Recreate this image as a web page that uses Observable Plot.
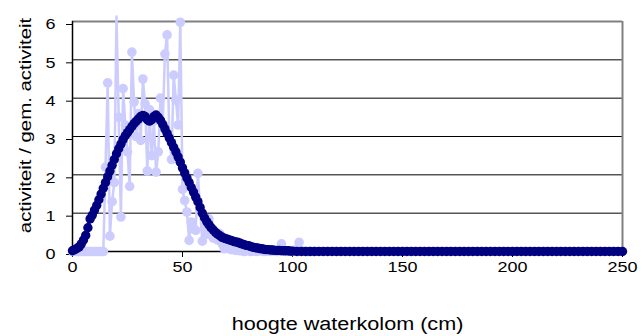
<!DOCTYPE html>
<html><head><meta charset="utf-8">
<script src="https://cdn.jsdelivr.net/npm/d3@7"></script>
<script src="https://cdn.jsdelivr.net/npm/@observablehq/plot@0.6"></script>
<style>body{margin:0;background:#fff}</style>
</head><body><div id="chart"></div>
<script>
const xTicks = [0, 50, 100, 150, 200, 250];
const yTicks = [0, 1, 2, 3, 4, 5, 6];
const xTitle = "hoogte waterkolom (cm)";
const yTitle = "activiteit / gem. activiteit";

// light (measured) series
const lightX = [0,1,2,3,4,5,6,7,8,9,10,11,12,13,14,15,16,17,18,19,20,21,22,23,24,25,26,27,28,29,30,31,32,33,34,35,36,37,38,39,40,41,42,43,44,45,46,47,48,49,50,51,52,53,54,55,56,57,58,59,60,61,62,63,64,65,66,67,68,69,70,71,72,73,74,75,76,77,78,79,80,81,82,83,84,85,86,87,88,89,90,91,92,93,94,95,96,97,98,99,100,101,102,103,104,105,106,107,108,109,110];
const lightY = [0,0,0,0,0,0,0,0,0,0,0,0,0,0,0,2.2,4.4,0.4,1.3,1.8,6.13,3.5,0.9,4.25,3.3,2.6,1.7,5.2,3.9,3.0,3.6,2.9,4.5,3.85,2.1,3.7,2.5,3.4,2.07,2.6,4.0,3.3,5.15,5.65,3.0,2.4,4.6,3.95,3.3,5.98,1.62,1.33,1.03,0.29,0.77,0.59,0.55,2.04,1.1,0.27,0.6,0.45,0.85,0.63,0.35,0.5,0.3,0.46,0.2,0.07,0.15,0.1,0.05,0.08,0.03,0.05,0.02,0.03,0,0.02,0.04,0,0.02,0.01,0,0.03,0.02,0,0.01,0.02,0,0.03,0.01,0,0.02,0.2,0.03,0,0.02,0.01,0,0.03,0.05,0.24,0.02,0,0,0,0,0,0];

// dark (smoothed) series
const darkX = [0,1,2,3,4,5,6,7,8,9,10,11,12,13,14,15,16,17,18,19,20,21,22,23,24,25,26,27,28,29,30,31,32,33,34,35,36,37,38,39,40,41,42,43,44,45,46,47,48,49,50,51,52,53,54,55,56,57,58,59,60,61,62,63,64,65,66,67,68,69,70,71,72,73,74,75,76,77,78,79,80,81,82,83,84,85,86,87,88,89,90,91,92,93,94,95,96,97,98,99,100,
102,104,106,108,110,112,114,116,118,120,122,124,126,128,130,132,134,136,138,140,142,144,146,148,150,152,154,156,158,160,162,164,166,168,170,172,174,176,178,180,182,184,186,188,190,192,194,196,198,200,202,204,206,208,210,212,214,216,218,220,222,224,226,228,230,232,234,236,238,240,242,244,246,248,250];
const darkY = [0.02,0.05,0.08,0.12,0.2,0.3,0.42,0.62,0.85,0.95,1.08,1.2,1.35,1.5,1.65,1.8,1.95,2.1,2.25,2.4,2.55,2.68,2.8,2.92,3.02,3.1,3.18,3.26,3.34,3.4,3.46,3.52,3.55,3.52,3.44,3.4,3.44,3.52,3.56,3.5,3.42,3.32,3.2,3.08,2.96,2.84,2.72,2.6,2.47,2.33,2.18,2.05,1.92,1.8,1.67,1.55,1.42,1.3,1.15,1.0,0.88,0.78,0.7,0.62,0.56,0.5,0.45,0.41,0.37,0.35,0.33,0.31,0.29,0.27,0.25,0.24,0.22,0.2,0.18,0.16,0.15,0.13,0.11,0.1,0.09,0.08,0.07,0.06,0.05,0.05,0.04,0.04,0.03,0.03,0.03,0.02,0.02,0.02,0.02,0.01,0.01,
0,0,0,0,0,0,0,0,0,0,0,0,0,0,0,0,0,0,0,0,0,0,0,0,0,0,0,0,0,0,0,0,0,0,0,0,0,0,0,0,0,0,0,0,0,0,0,0,0,0,0,0,0,0,0,0,0,0,0,0,0,0,0,0,0,0,0,0,0,0,0,0,0,0,0];

const light = lightX.map((x, i) => ({x, y: lightY[i]}));
const dark = darkX.map((x, i) => ({x, y: darkY[i]}));

const LIGHT = "#ccccff", DARK = "#000080";

const chart = Plot.plot({
  width: 643, height: 336,
  marginLeft: 72, marginRight: 21, marginTop: 21, marginBottom: 85,
  style: {fontFamily: "'Liberation Sans', Arial, sans-serif", fontSize: "15px", color: "#000", background: "#fff"},
  x: {domain: [0, 250]},
  y: {domain: [0, 6]},
  marks: [
    Plot.ruleY([1, 2, 3, 4, 5], {stroke: "#000", strokeWidth: 1}),
    Plot.ruleY([6], {stroke: "#808080", strokeWidth: 2}),
    Plot.ruleX([250], {stroke: "#808080", strokeWidth: 2}),
    Plot.ruleY([0], {stroke: "#000", strokeWidth: 1.5}),
    Plot.ruleX([0], {stroke: "#000", strokeWidth: 1.5}),
    Plot.axisX({ticks: xTicks, tickFormat: d => String(d), tickSize: 6, tickPadding: 4, label: null, fontSize: 15}),
    Plot.axisY({ticks: yTicks, tickFormat: d => String(d), tickSize: 6, tickPadding: 11, label: null, fontSize: 15, dy: 3}),
    Plot.line(light, {x: "x", y: "y", stroke: LIGHT, strokeWidth: 2.5}),
    Plot.dot(light.filter(d => d.y <= 6), {x: "x", y: "y", r: 4.8, fill: LIGHT, stroke: "none"}),
    Plot.line(dark, {x: "x", y: "y", stroke: DARK, strokeWidth: 3}),
    Plot.dot(dark, {x: "x", y: "y", r: 4.7, fill: DARK, stroke: "none"}),
    Plot.text([xTitle], {frameAnchor: "bottom", dy: 73, fontSize: 18, textAnchor: "middle", lineAnchor: "middle", fill: "#000"}),
    Plot.text([yTitle], {frameAnchor: "left", dx: -47, dy: -11, rotate: -90, fontSize: 17, textAnchor: "middle", lineAnchor: "middle", fill: "#000"})
  ]
});
document.getElementById("chart").appendChild(chart);
chart.querySelectorAll("text").forEach(t => {
  const L = t.getComputedTextLength();
  if (L > 0) {
    t.setAttribute("textLength", (L * 1.2).toFixed(2));
    t.setAttribute("lengthAdjust", "spacingAndGlyphs");
  }
});
</script>
</body></html>
